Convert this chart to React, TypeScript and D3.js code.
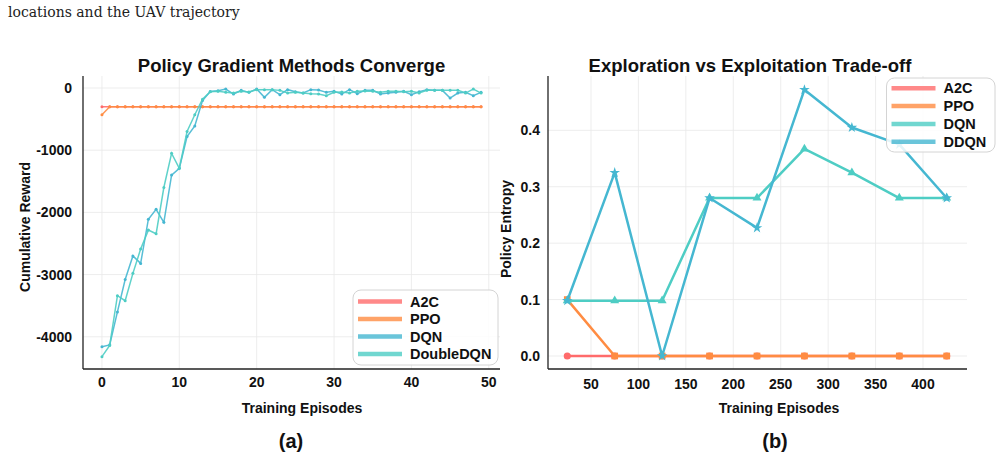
import * as d3 from 'd3';
import React from 'react';

// ---- data: (a) cumulative reward per episode
const episodes = d3.range(0, 50);
const a2cReward = episodes.map(() => -300);
const ppoReward = [-430, ...d3.range(1, 50).map(() => -300)];
const dqnReward = [
  -4160, -4130, -3600, -3080, -2700, -2820, -2110, -1950, -2160, -1400,
  -1290, -780, -610, -200, -55, -43, -16, -97, -38, -70,
  -16, -150, -27, -108, -27, -60, -81, -27, -32, -70,
  -54, -97, -27, -92, -38, -38, -97, -81, -70, -54,
  -108, -60, -27, -38, -38, -161, -81, -70, -124, -70,
];
const doubleDqnReward = [
  -4320, -4140, -3340, -3420, -2980, -2590, -2285, -2344, -1600, -1050,
  -1290, -700, -430, -180, -60, -54, -70, -81, -54, -65,
  -27, -27, -27, -38, -81, -70, -81, -92, -97, -124,
  -70, -65, -81, -54, -48, -54, -70, -54, -54, -60,
  -54, -81, -38, -38, -38, -38, -38, -81, -16, -81,
];
const rewardTicksX = [0, 10, 20, 30, 40, 50];
const rewardTicksY = [0, -1000, -2000, -3000, -4000];

// ---- data: (b) policy entropy
const entropyEpisodes = [25, 75, 125, 175, 225, 275, 325, 375, 425];
const a2cEntropy = [0, 0, 0, 0, 0, 0, 0, 0, 0];
const ppoEntropy = [0.1, 0, 0, 0, 0, 0, 0, 0, 0];
const dqnEntropy = [0.098, 0.098, 0.098, 0.28, 0.28, 0.367, 0.325, 0.28, 0.28];
const ddqnEntropy = [0.098, 0.325, 0, 0.28, 0.227, 0.472, 0.405, 0.375, 0.28];
const entropyTicksX = [50, 100, 150, 200, 250, 300, 350, 400];
const entropyTicksY = [0, 0.1, 0.2, 0.3, 0.4];

const RED = '#FF6B6B';
const ORANGE = '#FF8C42';
const TEAL = '#4ECDC4';
const BLUE = '#45B7D1';
const FONT = "'Liberation Sans', Arial, sans-serif";

function Legend(props: any) {
  const { x, y, w, h, items, step, top } = props;
  return (
    <g>
      <rect x={x} y={y} width={w} height={h} rx={8} fill="white" fillOpacity={0.85} stroke="#d4d4d4" />
      {items.map((it: any, i: number) => (
        <g key={it.name}>
          <line x1={x + 5} x2={x + 49} y1={top + i * step} y2={top + i * step}
            stroke={it.color} strokeWidth={4.5} strokeOpacity={0.8} />
          <text x={x + 57} y={top + i * step + 5} fontSize={14.5} fontWeight="bold" fill="#111">{it.name}</text>
        </g>
      ))}
    </g>
  );
}

function RewardChart() {
  const x = d3.scaleLinear().domain([-2.45, 51.45]).range([83, 500]);
  const y = d3.scaleLinear().domain([-4518, 193]).range([369, 76]);
  const line = d3.line<number>().x((_, i) => x(episodes[i])).y((d) => y(d));
  const series = [
    { name: 'A2C', color: RED, data: a2cReward },
    { name: 'PPO', color: ORANGE, data: ppoReward },
    { name: 'DQN', color: BLUE, data: dqnReward },
    { name: 'DoubleDQN', color: TEAL, data: doubleDqnReward },
  ];
  return (
    <g>
      {rewardTicksX.map((t) => (
        <line key={'gx' + t} x1={x(t)} x2={x(t)} y1={76} y2={369} stroke="#e8e8e8" strokeWidth={0.8} />
      ))}
      {rewardTicksY.map((t) => (
        <line key={'gy' + t} x1={83} x2={500} y1={y(t)} y2={y(t)} stroke="#e8e8e8" strokeWidth={0.8} />
      ))}
      {series.map((s) => (
        <g key={s.name}>
          <path d={line(s.data) || ''} fill="none" stroke={s.color} strokeWidth={1.5} strokeOpacity={0.9} />
          {s.data.map((d, i) => (
            <circle key={i} cx={x(episodes[i])} cy={y(d)} r={1.5} fill={s.color} />
          ))}
        </g>
      ))}
      <line x1={83} x2={83} y1={76} y2={369} stroke="#222" strokeWidth={1.3} />
      <line x1={83} x2={500} y1={369} y2={369} stroke="#222" strokeWidth={1.3} />
      {rewardTicksX.map((t) => (
        <text key={'tx' + t} x={x(t)} y={387} textAnchor="middle" fontSize={14} fontWeight="bold" fill="#111">{t}</text>
      ))}
      {rewardTicksY.map((t) => (
        <text key={'ty' + t} x={72} y={y(t) + 5} textAnchor="end" fontSize={14} fontWeight="bold" fill="#111">{t}</text>
      ))}
      <text x={291.5} y={72} textAnchor="middle" fontSize={18.5} fontWeight="bold" fill="#111">Policy Gradient Methods Converge</text>
      <text x={302} y={413} textAnchor="middle" fontSize={14} fontWeight="bold" fill="#111">Training Episodes</text>
      <text transform="translate(30,227) rotate(-90)" textAnchor="middle" fontSize={14} fontWeight="bold" fill="#111">Cumulative Reward</text>
      <Legend x={353} y={290} w={145} h={75} top={301.5} step={17.5} items={series} />
    </g>
  );
}

function EntropyChart() {
  const x = d3.scaleLinear().domain([5, 445]).range([548.3, 965.7]);
  const y = d3.scaleLinear().domain([-0.0236, 0.4956]).range([369.3, 76.4]);
  const line = d3.line<number>().x((_, i) => x(entropyEpisodes[i])).y((d) => y(d));
  const series = [
    { name: 'A2C', color: RED, data: a2cEntropy, sym: d3.symbolCircle, size: 40 },
    { name: 'PPO', color: ORANGE, data: ppoEntropy, sym: d3.symbolSquare, size: 45 },
    { name: 'DQN', color: TEAL, data: dqnEntropy, sym: d3.symbolTriangle, size: 35 },
    { name: 'DDQN', color: BLUE, data: ddqnEntropy, sym: d3.symbolStar, size: 35 },
  ];
  return (
    <g>
      {entropyTicksX.map((t) => (
        <line key={'gx' + t} x1={x(t)} x2={x(t)} y1={76} y2={369} stroke="#e8e8e8" strokeWidth={0.8} />
      ))}
      {entropyTicksY.map((t) => (
        <line key={'gy' + t} x1={548} x2={967} y1={y(t)} y2={y(t)} stroke="#e8e8e8" strokeWidth={0.8} />
      ))}
      {series.map((s) => (
        <g key={s.name}>
          <path d={line(s.data) || ''} fill="none" stroke={s.color} strokeWidth={2.5} strokeLinejoin="round" />
          {s.data.map((d, i) => (
            <path key={i} transform={`translate(${x(entropyEpisodes[i])},${y(d)})`}
              d={d3.symbol(s.sym, s.size)() || ''} fill={s.color} />
          ))}
        </g>
      ))}
      <line x1={548} x2={548} y1={76} y2={369} stroke="#222" strokeWidth={1.3} />
      <line x1={548} x2={967} y1={369} y2={369} stroke="#222" strokeWidth={1.3} />
      {entropyTicksX.map((t) => (
        <text key={'tx' + t} x={x(t)} y={389} textAnchor="middle" fontSize={14} fontWeight="bold" fill="#111">{t}</text>
      ))}
      {entropyTicksY.map((t) => (
        <text key={'ty' + t} x={540} y={y(t) + 5} textAnchor="end" fontSize={14} fontWeight="bold" fill="#111">{t.toFixed(1)}</text>
      ))}
      <text x={750} y={72} textAnchor="middle" fontSize={18.5} fontWeight="bold" fill="#111">Exploration vs Exploitation Trade-off</text>
      <text x={779} y={413} textAnchor="middle" fontSize={14} fontWeight="bold" fill="#111">Training Episodes</text>
      <text transform="translate(511,229) rotate(-90)" textAnchor="middle" fontSize={14} fontWeight="bold" fill="#111">Policy Entropy</text>
      <Legend x={886.5} y={78} w={108.5} h={74} top={88.3} step={17.8} items={series} />
    </g>
  );
}

export default function App() {
  return (
    <svg width={1002} height={463} style={{ position: 'absolute', left: 0, top: 0, background: 'white' }}
      fontFamily={FONT}>
      <text x={8} y={17} fontSize={14} fontFamily="'DejaVu Serif', 'Liberation Serif', serif" fill="#222">locations and the UAV trajectory</text>
      <RewardChart />
      <EntropyChart />
      <text x={291} y={448} textAnchor="middle" fontSize={20} fontWeight="bold" fill="#111">(a)</text>
      <text x={775} y={448} textAnchor="middle" fontSize={20} fontWeight="bold" fill="#111">(b)</text>
    </svg>
  );
}
